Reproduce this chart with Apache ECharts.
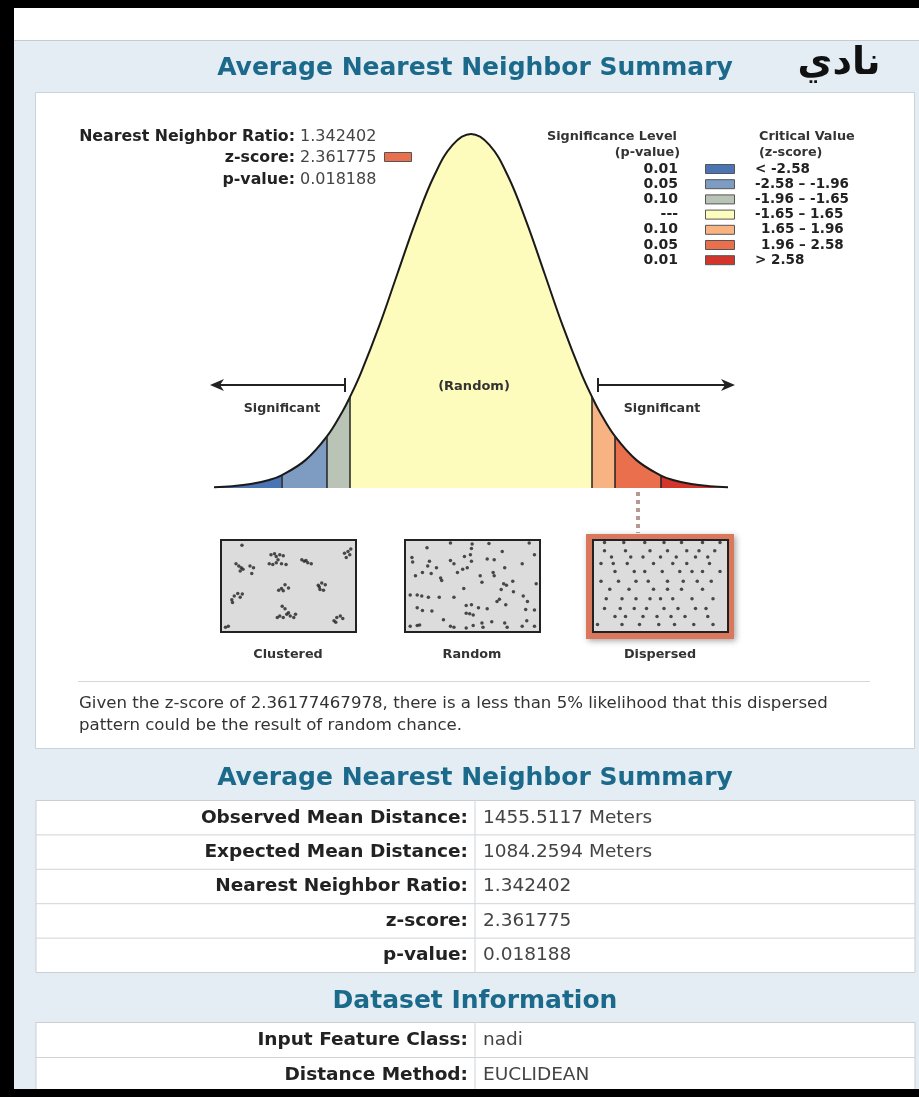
<!DOCTYPE html>
<html>
<head>
<meta charset="utf-8">
<script src="https://cdn.jsdelivr.net/npm/echarts@6/dist/echarts.min.js"></script>
<style>
  html, body { margin: 0; padding: 0; background: #000; }
  #chart { width: 919px; height: 1097px; }
</style>
</head>
<body>
<div id="chart"></div>
<script>
// normal curve (z-score -> relative height)
var curveZ = [-3.5, -3.25, -3, -2.75, -2.58, -2.25, -1.96, -1.75, -1.65, -1.5, -1.25, -1, -0.75, -0.5, -0.25, 0,
              0.25, 0.5, 0.75, 1, 1.25, 1.5, 1.65, 1.75, 1.96, 2.25, 2.58, 2.75, 3, 3.25, 3.5];
var curveH = [0.0009, 0.0020, 0.0044, 0.0091, 0.0143, 0.0317, 0.0584, 0.0863, 0.1023, 0.1295, 0.1826, 0.2420, 0.3011, 0.3521, 0.3867, 0.3989,
              0.3867, 0.3521, 0.3011, 0.2420, 0.1826, 0.1295, 0.1023, 0.0863, 0.0584, 0.0317, 0.0143, 0.0091, 0.0044, 0.0020, 0.0009];
var bandEdges = [-3.5, -2.58, -1.96, -1.65, 1.65, 1.96, 2.58, 3.5];
var bandColors = ['#4a74b4', '#7e9cc2', '#b9c4b6', '#fefcbd', '#f8b383', '#e96f4d', '#d3352a'];
var sigLevels = ['0.01', '0.05', '0.10', '---', '0.10', '0.05', '0.01'];
var critLabels = ['< -2.58', '-2.58 – -1.96', '-1.96 – -1.65', '-1.65 – 1.65', '1.65 – 1.96', '1.96 – 2.58', '> 2.58'];

var summaryLabels = ['Nearest Neighbor Ratio:', 'z-score:', 'p-value:'];
var summaryValues = ['1.342402', '2.361775', '0.018188'];
var statLabels = ['Observed Mean Distance:', 'Expected Mean Distance:', 'Nearest Neighbor Ratio:', 'z-score:', 'p-value:'];
var statValues = ['1455.5117 Meters', '1084.2594 Meters', '1.342402', '2.361775', '0.018188'];
var dataLabels = ['Input Feature Class:', 'Distance Method:'];
var dataValues = ['nadi', 'EUCLIDEAN'];
var patternNames = ['Clustered', 'Random', 'Dispersed'];

// dots of the three pattern pictures (box units 380 x 280)
var clusteredPts = [[57,13],[40,71],[48,78],[55,83],[60,88],[52,93],[80,78],[85,101],[90,83],
  [140,43],[150,40],[155,48],[165,43],[175,46],[135,71],[145,73],[155,68],[170,71],[183,73],[160,58],
  [228,58],[235,63],[245,68],[255,71],[240,61],
  [350,38],[360,33],[368,25],[355,51],[365,43],
  [162,153],[170,148],[180,136],[190,146],[175,155],
  [275,138],[285,131],[295,136],[280,151],[290,153],[278,143],
  [28,183],[35,171],[45,163],[52,175],[58,165],[30,191],
  [172,203],[180,211],[185,228],[165,233],[195,233],[205,238],[175,238],[190,223],[210,228],[158,238],
  [320,248],[328,238],[338,233],[345,241],[325,253],
  [10,268],[18,265]];
var randomPts = [[60,21],[127,6],[189,9],[187,23],[237,8],[275,33],[352,6],[367,43],
  [17,51],[19,65],[67,63],[62,78],[87,83],[127,61],[137,71],[167,48],[184,43],[187,63],[175,83],[232,56],[252,58],[282,83],[332,71],
  [27,108],[47,98],[72,101],[99,115],[102,123],[147,98],[162,88],[212,108],[217,128],[249,98],[252,108],[279,133],[287,138],[305,125],[272,151],[307,158],[372,133],
  [12,168],[32,168],[45,171],[64,175],[95,175],[137,175],[165,148],[335,171],[347,188],
  [32,208],[47,216],[74,218],[172,201],[187,198],[207,208],[232,211],[260,188],[267,181],[285,198],[342,213],[367,215],
  [172,225],[182,226],[192,230],[107,245],[127,265],[137,268],[172,271],[192,263],[217,255],[220,268],[245,251],[282,255],[289,268],[332,265],[345,248],[367,265],
  [12,265],[32,263],[39,261]];
var dispersedPts = [[30,5],[85,5],[145,5],[200,5],[250,5],[310,5],[360,5],
  [30,30],[90,30],[160,30],[210,30],[265,30],[300,30],[345,30],
  [50,50],[105,50],[140,50],[190,50],[235,50],[290,50],[325,50],
  [20,70],[55,70],[95,70],[170,70],[225,70],[265,70],[330,70],
  [60,95],[115,95],[145,95],[195,95],[245,95],[280,95],[310,95],[360,95],
  [20,125],[70,125],[120,125],[155,125],[210,125],[255,125],[295,125],[335,125],
  [45,150],[100,150],[170,150],[210,150],[250,150],[310,150],
  [35,180],[80,180],[120,180],[160,180],[190,180],[225,180],[280,180],[340,180],
  [30,210],[75,210],[115,210],[150,210],[200,210],[240,210],[290,210],[320,210],
  [60,235],[90,235],[140,235],[180,235],[220,235],[260,235],[325,235],
  [10,260],[80,260],[130,260],[185,260],[230,260],[285,260],[340,260]];

var FONT = '"DejaVu Sans", Verdana, sans-serif';

function txt(text, x, y, size, opt) {
    opt = opt || {};
    return {
        type: 'text', z: 50,
        style: {
            text: text, x: x, y: y,
            font: (opt.bold ? 'bold ' : '') + size + 'px ' + (opt.family || FONT),
            fill: opt.color || '#222',
            textAlign: opt.align || 'left',
            textVerticalAlign: 'middle'
        }
    };
}

function rect(x, y, w, h, fill, stroke, lw, z) {
    return {
        type: 'rect', z: z || 0,
        shape: { x: x, y: y, width: w, height: h },
        style: { fill: fill, stroke: stroke || null, lineWidth: lw || 0 }
    };
}

function line(x1, y1, x2, y2, color, lw, z) {
    return {
        type: 'line', z: z || 1,
        shape: { x1: x1, y1: y1, x2: x2, y2: y2 },
        style: { stroke: color, lineWidth: lw || 1 }
    };
}

function table(top, rowH, labels, values) {
    var els = [rect(36, top, 879, rowH * labels.length, '#fff', '#c9cfd3', 1, 1)];
    for (var i = 0; i < labels.length; i++) {
        var cy = top + rowH * i + rowH / 2;
        if (i > 0) els.push(line(36, top + rowH * i, 915, top + rowH * i, '#cfd4d8', 1, 2));
        els.push(txt(labels[i], 468, cy, 18.5, { bold: true, align: 'right' }));
        els.push(txt(values[i], 483, cy, 18.5, { color: '#444' }));
    }
    els.push(line(475, top, 475, top + rowH * labels.length, '#cfd4d8', 1, 2));
    return els;
}

var graphics = [];
// page background
graphics.push(rect(0, 0, 919, 1097, '#000', null, 0, 0));
graphics.push(rect(14, 8, 905, 33, '#fff', null, 0, 0));
graphics.push(rect(14, 40, 905, 1050, '#e3edf3', null, 0, 0));
graphics.push(line(14, 40.5, 919, 40.5, '#c4ccd2', 1, 1));
graphics.push(txt('Average Nearest Neighbor Summary', 475, 68, 25, { bold: true, color: '#1c6a8b', align: 'center' }));
graphics.push(txt('نادي', 839, 64, 38, { bold: true, color: '#111', align: 'center' }));

// white report box
graphics.push(rect(35.5, 92.5, 879, 656, '#fff', '#c9d3da', 1, 1));

// summary at top left
for (var i = 0; i < summaryLabels.length; i++) {
    var sy = [137, 158, 180][i];
    graphics.push(txt(summaryLabels[i], 295, sy, 15.8, { bold: true, align: 'right' }));
    graphics.push(txt(summaryValues[i], 300, sy, 16, { color: '#444' }));
}
graphics.push(rect(384.5, 152.5, 27, 9, '#e8704e', '#555', 1, 5));

// legend
graphics.push(txt('Significance Level', 677, 137, 12.8, { bold: true, align: 'right', color: '#333' }));
graphics.push(txt('(p-value)', 680, 153, 12.8, { bold: true, align: 'right', color: '#333' }));
graphics.push(txt('Critical Value', 759, 137, 12.8, { bold: true, color: '#333' }));
graphics.push(txt('(z-score)', 759, 153, 12.8, { bold: true, color: '#333' }));
for (var k = 0; k < sigLevels.length; k++) {
    var ly = 169 + k * 15.2;
    graphics.push(txt(sigLevels[k], 678, ly, 14, { bold: true, align: 'right' }));
    graphics.push(rect(705.5, ly - 4.5, 29, 9, bandColors[k], '#555', 1, 5));
    graphics.push(txt(critLabels[k], k >= 4 && k <= 5 ? 761 : 755, ly, 13.5, { bold: true }));
}

// arrows and labels over the curve
graphics.push(line(214, 385, 345, 385, '#222', 2, 6));
graphics.push(line(345, 378, 345, 392, '#222', 2, 6));
graphics.push({ type: 'polygon', z: 6, shape: { points: [[210, 385], [224, 379], [220, 385], [224, 391]] }, style: { fill: '#222' } });
graphics.push(line(598, 378, 598, 392, '#222', 2, 6));
graphics.push(line(598, 385, 728, 385, '#222', 2, 6));
graphics.push({ type: 'polygon', z: 6, shape: { points: [[735, 385], [721, 379], [725, 385], [721, 391]] }, style: { fill: '#222' } });
graphics.push(txt('(Random)', 474, 387, 13, { bold: true, align: 'center', color: '#333' }));
graphics.push(txt('Significant', 282, 409, 12.7, { bold: true, align: 'center', color: '#333' }));
graphics.push(txt('Significant', 662, 409, 12.7, { bold: true, align: 'center', color: '#333' }));

// dotted connector to the dispersed box
graphics.push({ type: 'line', z: 4, shape: { x1: 638, y1: 492, x2: 638, y2: 533 },
    style: { stroke: '#b59a94', lineWidth: 4, lineDash: [4, 4] } });

// pattern boxes
graphics.push({ type: 'rect', z: 1, shape: { x: 586, y: 534, width: 148, height: 105 },
    style: { fill: '#d9785c', shadowBlur: 6, shadowColor: 'rgba(0,0,0,0.35)', shadowOffsetX: 2, shadowOffsetY: 2 } });
var boxLeft = [221, 405, 593];
for (var b = 0; b < 3; b++) {
    graphics.push(rect(boxLeft[b], 540, 135, 92, '#dcdcdc', '#222', 2, 2));
    graphics.push(txt(patternNames[b], boxLeft[b] + 67, 655, 12.8, { bold: true, align: 'center', color: '#333' }));
}

// conclusion
graphics.push(line(78, 681.5, 870, 681.5, '#d4d8db', 1, 2));
graphics.push(txt('Given the z-score of 2.36177467978, there is a less than 5% likelihood that this dispersed', 79, 704, 16.6, { color: '#333' }));
graphics.push(txt('pattern could be the result of random chance.', 79, 726, 16.6, { color: '#333' }));

// lower tables
graphics.push(txt('Average Nearest Neighbor Summary', 475, 778, 25, { bold: true, color: '#1c6a8b', align: 'center' }));
graphics = graphics.concat(table(800.5, 34.4, statLabels, statValues));
graphics.push(txt('Dataset Information', 475, 1001, 25, { bold: true, color: '#1c6a8b', align: 'center' }));
graphics = graphics.concat(table(1022.5, 35, dataLabels, dataValues));

// black frame on top
graphics.push(rect(0, 1089, 919, 8, '#000', null, 0, 100));
graphics.push(rect(0, 0, 14, 1097, '#000', null, 0, 100));
graphics.push(rect(0, 0, 919, 8, '#000', null, 0, 100));

function heightAt(z) {
    return curveH[curveZ.indexOf(z)];
}

var series = [];
for (var s = 0; s < bandColors.length; s++) {
    var lo = bandEdges[s], hi = bandEdges[s + 1];
    var pts = [];
    for (var j = 0; j < curveZ.length; j++) {
        if (curveZ[j] >= lo && curveZ[j] <= hi) pts.push([curveZ[j], curveH[j]]);
    }
    series.push({
        type: 'line', xAxisIndex: 0, yAxisIndex: 0, z: 2,
        data: pts, smooth: 0.4, symbol: 'none', clip: false,
        lineStyle: { width: 0 },
        areaStyle: { color: bandColors[s], opacity: 1 },
        silent: true
    });
}
series.push({
    type: 'line', xAxisIndex: 0, yAxisIndex: 0, z: 3,
    data: curveZ.map(function (z, i) { return [z, curveH[i]]; }),
    smooth: 0.4, symbol: 'none', clip: false,
    lineStyle: { color: '#1a1a1a', width: 2 },
    markLine: {
        silent: true, symbol: 'none', label: { show: false },
        lineStyle: { color: '#222', width: 1.5, type: 'solid' },
        data: bandEdges.slice(1, -1).map(function (e) {
            return [{ coord: [e, 0] }, { coord: [e, heightAt(e)] }];
        })
    }
});
[clusteredPts, randomPts, dispersedPts].forEach(function (pts, idx) {
    series.push({
        type: 'scatter', xAxisIndex: idx + 1, yAxisIndex: idx + 1, z: 10,
        data: pts, symbol: 'circle', symbolSize: 3.5,
        itemStyle: { color: '#222' }, silent: true
    });
});

var boxAxisX = { type: 'value', min: 0, max: 380, show: false };
var boxAxisY = { type: 'value', min: 0, max: 280, inverse: true, show: false };

var myChart = echarts.init(document.getElementById('chart'), null, { renderer: 'canvas' });
myChart.setOption({
    animation: false,
    backgroundColor: '#000',
    grid: [
        { left: 214, top: 134, width: 514, height: 354 },
        { left: 222, top: 541, width: 133, height: 90 },
        { left: 406, top: 541, width: 133, height: 90 },
        { left: 594, top: 541, width: 133, height: 90 }
    ],
    xAxis: [
        {
            type: 'value', gridIndex: 0, min: -3.5, max: 3.5, interval: 3.5,
            axisLine: { show: true, lineStyle: { color: '#222', width: 2 } },
            axisTick: { show: true, customValues: [0], length: 4, lineStyle: { color: '#111', width: 2 } },
            axisLabel: { show: false }, splitLine: { show: false }
        },
        Object.assign({ gridIndex: 1 }, boxAxisX),
        Object.assign({ gridIndex: 2 }, boxAxisX),
        Object.assign({ gridIndex: 3 }, boxAxisX)
    ],
    yAxis: [
        { type: 'value', gridIndex: 0, min: 0, max: 0.3989, show: false },
        Object.assign({ gridIndex: 1 }, boxAxisY),
        Object.assign({ gridIndex: 2 }, boxAxisY),
        Object.assign({ gridIndex: 3 }, boxAxisY)
    ],
    graphic: { elements: graphics },
    series: series
});
</script>
</body>
</html>
